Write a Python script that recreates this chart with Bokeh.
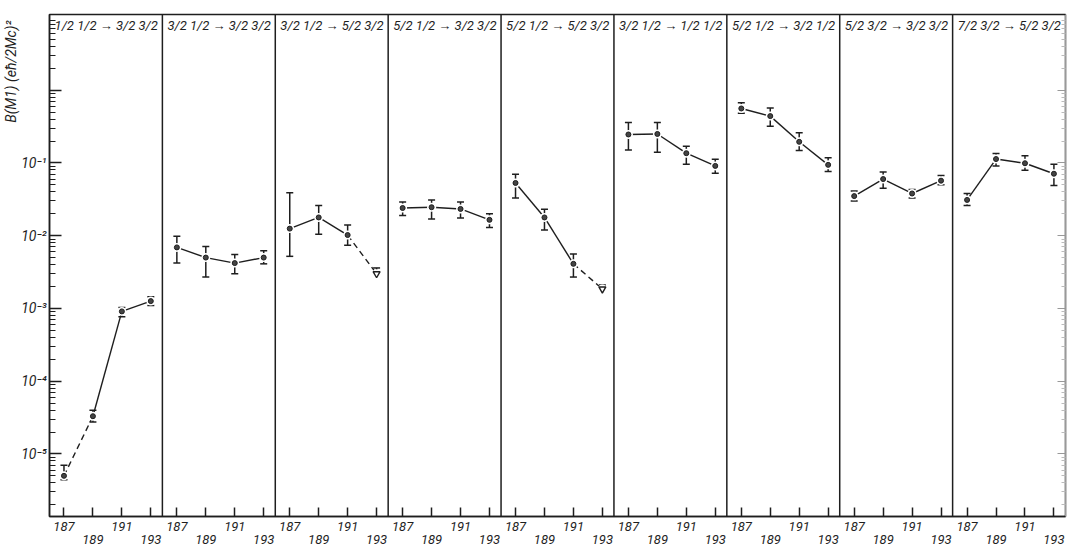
import numpy as np
from bokeh.plotting import figure
from bokeh.models import (Range1d, FixedTicker, LogAxis, Span, Title,
                          ColumnDataSource, Whisker, TeeHead)
from bokeh.core.properties import value
from bokeh.embed import file_html
from bokeh.resources import INLINE

# ---------------- data ----------------
masses = [187, 189, 191, 193]
mass_labels = ["187", "189", "191", "193"]

titles = ["1/2 1/2 \u2192 3/2 3/2", "3/2 1/2 \u2192 3/2 3/2", "3/2 1/2 \u2192 5/2 3/2",
          "5/2 1/2 \u2192 3/2 3/2", "5/2 1/2 \u2192 5/2 3/2", "3/2 1/2 \u2192 1/2 1/2",
          "5/2 1/2 \u2192 3/2 1/2", "5/2 3/2 \u2192 3/2 3/2", "7/2 3/2 \u2192 5/2 3/2"]

p1_val = [5.0e-6, 3.3e-5, 9.1e-4, 1.26e-3]
p1_hi = [7.0e-6, 4.0e-5, 1.03e-3, 1.45e-3]
p1_lo = [4.4e-6, 2.75e-5, 7.7e-4, 1.1e-3]
p1_link = ["dashed", "solid", "solid"]

p2_val = [6.9e-3, 5.0e-3, 4.2e-3, 5.0e-3]
p2_hi = [9.8e-3, 7.1e-3, 5.5e-3, 6.2e-3]
p2_lo = [4.2e-3, 2.7e-3, 3.0e-3, 4.1e-3]
p2_link = ["solid", "solid", "solid"]

p3_val = [1.25e-2, 1.78e-2, 1.02e-2, 3.0e-3]
p3_hi = [3.9e-2, 2.6e-2, 1.4e-2, 3.6e-3]
p3_lo = [5.2e-3, 1.05e-2, 7.4e-3, None]
p3_link = ["solid", "solid", "dashed"]

p4_val = [2.4e-2, 2.46e-2, 2.33e-2, 1.65e-2]
p4_hi = [2.9e-2, 3.1e-2, 2.9e-2, 2.0e-2]
p4_lo = [1.9e-2, 1.7e-2, 1.75e-2, 1.3e-2]
p4_link = ["solid", "solid", "solid"]

p5_val = [5.3e-2, 1.78e-2, 4.1e-3, 1.85e-3]
p5_hi = [7.0e-2, 2.3e-2, 5.6e-3, 2.1e-3]
p5_lo = [3.3e-2, 1.2e-2, 2.7e-3, None]
p5_link = ["solid", "solid", "dashed"]

p6_val = [0.246, 0.25, 0.136, 0.091]
p6_hi = [0.36, 0.36, 0.17, 0.112]
p6_lo = [0.15, 0.14, 0.096, 0.072]
p6_link = ["solid", "solid", "solid"]

p7_val = [0.56, 0.44, 0.195, 0.094]
p7_hi = [0.67, 0.57, 0.26, 0.118]
p7_lo = [0.48, 0.32, 0.148, 0.076]
p7_link = ["solid", "solid", "solid"]

p8_val = [0.035, 0.060, 0.038, 0.057]
p8_hi = [0.041, 0.075, 0.043, 0.067]
p8_lo = [0.030, 0.045, 0.033, 0.050]
p8_link = ["solid", "solid", "solid"]

p9_val = [0.031, 0.113, 0.099, 0.071]
p9_hi = [0.038, 0.135, 0.125, 0.096]
p9_lo = [0.026, 0.091, 0.079, 0.049]
p9_link = ["solid", "solid", "solid"]

panels = [
    (p1_val, p1_hi, p1_lo, p1_link), (p2_val, p2_hi, p2_lo, p2_link),
    (p3_val, p3_hi, p3_lo, p3_link), (p4_val, p4_hi, p4_lo, p4_link),
    (p5_val, p5_hi, p5_lo, p5_link), (p6_val, p6_hi, p6_lo, p6_link),
    (p7_val, p7_hi, p7_lo, p7_link), (p8_val, p8_hi, p8_lo, p8_link),
    (p9_val, p9_hi, p9_lo, p9_link),
]

decades = [1e-6, 1e-5, 1e-4, 1e-3, 1e-2, 1e-1, 1.0]
decade_labels = ["", "10\u207b\u2075", "10\u207b\u2074", "10\u207b\u00b3",
                 "10\u207b\u00b2", "10\u207b\u00b9", ""]

# ---------------- layout helpers ----------------
PW = 78  # panel width in x units
NP = len(panels)
INK = "#1e1e1e"
FONT = "Roboto"

def xpos(i, m):
    return i * PW + (m - 186) * 10

p = figure(width=1067, height=550, output_backend="svg", toolbar_location=None,
           y_axis_type="log",
           x_range=Range1d(0, NP * PW),
           y_range=Range1d(10 ** -5.86, 10 ** 1.04),
           min_border_left=48, min_border_right=2, min_border_top=14,
           min_border_bottom=10)
p.background_fill_color = "white"
p.border_fill_color = "white"
p.outline_line_color = INK
p.outline_line_width = 1.5
p.xgrid.visible = False
p.ygrid.visible = False

# x axis: ticks for each panel, staggered labels
xt = []
xover = {}
for i in range(NP):
    for k, m in enumerate(masses):
        t = xpos(i, m)
        xt.append(t)
        xover[t] = mass_labels[k] if k % 2 == 0 else "\n" + mass_labels[k]
xa = p.xaxis[0]
xa.ticker = FixedTicker(ticks=xt)
xa.major_label_overrides = xover
xa.major_tick_in = 9
xa.major_tick_out = 0
xa.minor_tick_line_color = None
xa.axis_line_width = 1.5
xa.axis_line_color = INK
xa.major_tick_line_width = 1.5
xa.major_tick_line_color = INK
xa.major_label_standoff = 2
xa.major_label_text_font = FONT
xa.major_label_text_font_style = "italic"
xa.major_label_text_font_size = "13px"
xa.major_label_text_line_height = 0.9
xa.major_label_text_color = INK

# y axis
minor = [m * d for d in decades for m in range(2, 10)]
ya = p.yaxis[0]
ya.ticker = FixedTicker(ticks=decades, minor_ticks=minor)
ya.major_label_overrides = dict(zip(decades, decade_labels))
ya.major_tick_in = 12
ya.major_tick_out = 0
ya.minor_tick_in = 6
ya.minor_tick_out = 0
ya.axis_line_width = 1.5
ya.axis_line_color = INK
ya.major_tick_line_width = 1.5
ya.major_tick_line_color = INK
ya.minor_tick_line_color = INK
ya.major_label_standoff = 3
ya.major_label_text_font = FONT
ya.major_label_text_font_style = "italic"
ya.major_label_text_font_size = "14px"
ya.major_label_text_color = INK

# faint right-hand scale (no labels)
ra = LogAxis(ticker=FixedTicker(ticks=decades, minor_ticks=minor),
             major_label_overrides={d: "" for d in decades},
             major_tick_in=8, major_tick_out=0,
             minor_tick_in=4, minor_tick_out=0, axis_line_color="#999",
             major_tick_line_color="#999", minor_tick_line_color="#bbb",
             major_label_standoff=0)
p.add_layout(ra, "right")

# y-axis title, placed at the top of the left margin
p.add_layout(Title(text="B(M1) (e\u0127/2Mc)\u00b2", align="right", offset=6,
                   standoff=0, text_font=FONT, text_font_style="italic",
                   text_font_size="14px", text_color=INK), "left")

# panel separators
for i in range(1, NP):
    p.add_layout(Span(location=i * PW, dimension="height", line_color=INK,
                      line_width=1.5))

# panel titles
p.text(x=[i * PW + 3.5 for i in range(NP)], y=[10 ** 0.99] * NP, text=titles,
       text_font=value(FONT), text_font_style="italic",
       text_font_size="13px", text_baseline="top", text_align="left",
       text_color=INK)

# data
for i, (val, hi, lo, link) in enumerate(panels):
    xs = [xpos(i, m) for m in masses]
    for k in range(3):
        p.line([xs[k], xs[k + 1]], [val[k], val[k + 1]], line_color=INK,
               line_width=1.4, line_dash="6 4" if link[k] == "dashed" else "solid")
    # gaps around points
    p.scatter(xs, val, size=9, marker="circle", fill_color="white", line_color=None)
    normal = [k for k in range(4) if lo[k] is not None]
    limits = [k for k in range(4) if lo[k] is None]
    src = ColumnDataSource(dict(x=[xs[k] for k in normal], y=[val[k] for k in normal],
                                hi=[hi[k] for k in normal], lo=[lo[k] for k in normal]))
    p.add_layout(Whisker(source=src, base="x", upper="hi", lower="lo",
                         dimension="height", line_color=INK, line_width=1.5,
                         upper_head=TeeHead(size=7, line_color=INK, line_width=1.5),
                         lower_head=TeeHead(size=7, line_color=INK, line_width=1.5)))
    p.scatter("x", "y", source=src, size=5, marker="circle", fill_color="#444",
              line_color=INK)
    if limits:
        lsrc = ColumnDataSource(dict(x=[xs[k] for k in limits], y=[val[k] for k in limits],
                                     hi=[hi[k] for k in limits]))
        p.add_layout(Whisker(source=lsrc, base="x", upper="hi", lower="y",
                             dimension="height", line_color=INK, line_width=1.5,
                             upper_head=TeeHead(size=7, line_color=INK, line_width=1.5),
                             lower_head=None))
        p.scatter("x", "y", source=lsrc, size=7, marker="inverted_triangle",
                  fill_color="white", line_color=INK, line_width=1.4)

open("out.html", "w").write(file_html(p, INLINE))
